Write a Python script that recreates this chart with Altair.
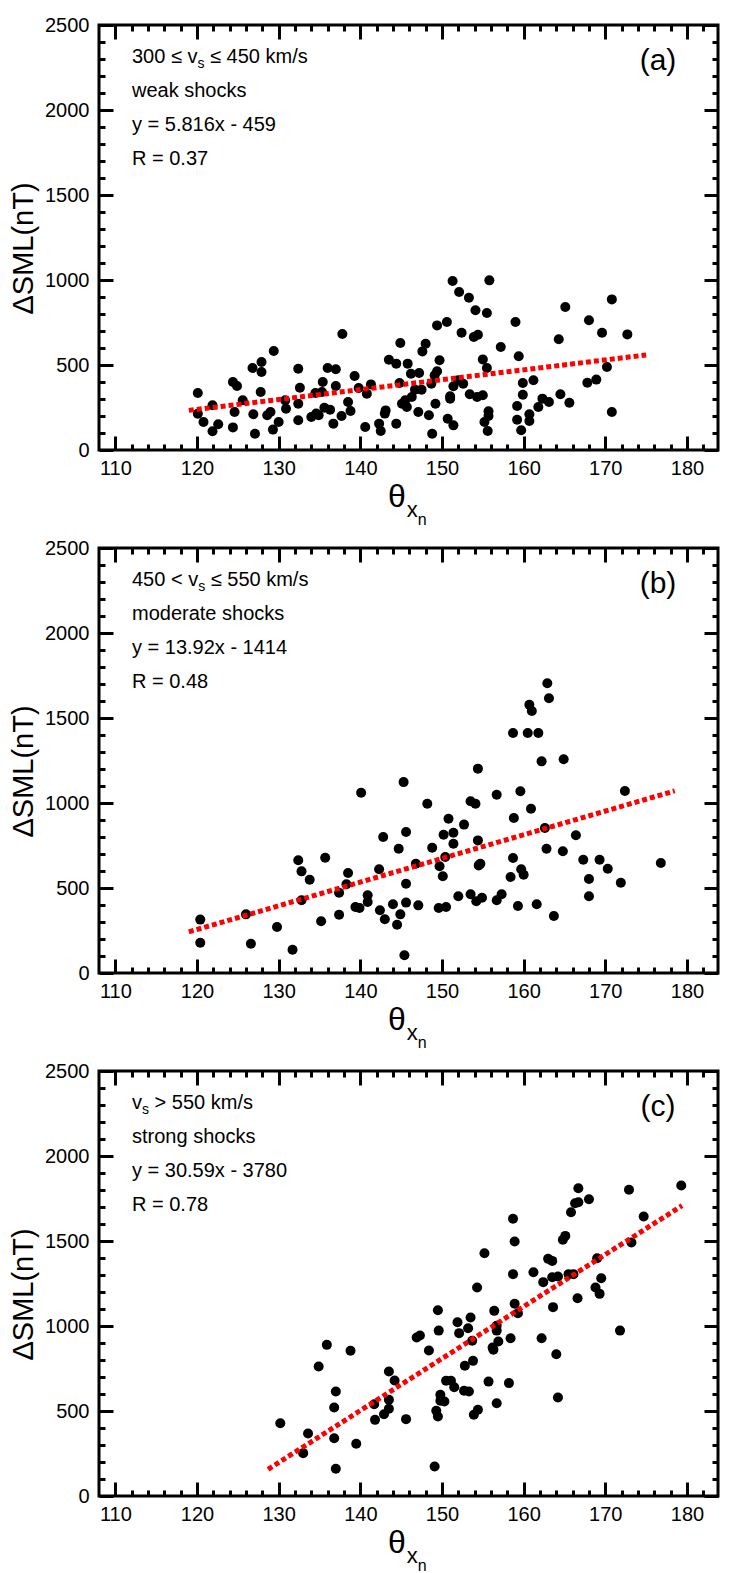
import altair as alt
import pandas as pd

# ---------------- data ----------------
a_x = [120.1,120.1,120.8,121.9,121.9,122.6,124.4,124.9,124.6,124.4,125.6,126.8,126.9,127.1,127.9,127.9,127.8,128.6,129.0,129.4,
       129.3,130.0,130.8,130.9,132.4,132.6,132.4,132.4,134.0,134.6,134.9,134.5,135.3,135.4,136.0,135.6,136.3,137.0,137.0,136.7,
       137.8,137.7,138.5,138.8,139.3,139.8,140.8,141.3,140.6,142.3,142.5,143.1,143.0,143.5,144.4,144.9,144.8,144.4,145.8,146.2,
       145.1,145.7,145.5,146.3,
       147.2,146.7,147.5,147.1,147.6,148.0,148.4,148.8,148.7,149.1,149.4,149.7,149.4,149.2,150.6,151.0,151.0,150.7,151.4,151.3,
       152.1,152.4,151.4,152.0,152.6,153.3,153.4,154.1,153.9,154.4,154.3,155.0,155.0,155.5,155.5,155.8,155.2,155.7,155.7,155.6,
       157.2,159.0,159.4,159.2,159.2,159.7,159.9,159.9,160.7,160.7,161.2,161.8,162.3,163.1,164.3,164.5,165.1,165.6,167.8,168.9,
       168.0,169.6,170.2,170.8,170.8,172.7]
a_y = [335,213,165,263,110,151,400,376,224,133,292,482,210,96,518,459,341,204,224,582,
       120,165,292,243,478,366,272,175,194,214,204,335,341,400,482,249,237,475,376,155,
       682,200,282,229,435,365,331,386,135,155,112,233,214,531,508,629,394,155,508,449,
       272,253,292,312,
       453,355,355,224,580,625,204,96,390,439,463,528,733,272,753,316,302,184,145,994,
       929,690,375,410,390,896,328,822,665,678,312,322,533,482,806,998,165,228,200,112,
       606,753,551,259,178,116,394,325,210,171,410,253,302,282,651,328,841,278,396,414,
       763,690,488,886,224,680]

b_x = [120.4,120.4,126.0,126.6,129.8,131.7,132.4,132.8,132.8,133.8,135.2,135.7,137.4,137.4,138.5,138.3,139.4,139.9,140.1,140.9,
       140.9,142.3,142.4,142.8,143.0,144.0,144.5,144.7,144.9,145.3,145.6,145.6,145.6,145.4,
       146.8,147.1,148.2,148.8,149.6,150.5,149.7,150.1,150.4,150.2,150.8,151.4,151.4,152.0,152.7,153.5,154.1,154.4,154.4,154.5,
       154.7,153.5,154.2,154.9,156.7,156.7,157.3,158.4,158.7,158.8,158.7,159.3,159.6,159.7,160.0,160.7,161.0,160.5,160.9,161.8,
       161.6,162.2,162.6,162.8,162.9,163.1,163.7,164.8,164.9,166.4,167.3,168.0,168.0,169.3,170.3,171.9,172.4,176.8]
b_y = [314,178,345,172,271,137,663,598,428,549,304,678,472,343,588,522,388,382,1060,457,
       418,610,369,800,316,404,284,731,345,1123,829,525,414,104,
       643,398,996,737,382,388,628,569,682,813,907,825,760,451,873,1010,996,1202,780,633,
       643,463,422,443,1049,428,463,565,676,912,1412,394,1069,610,578,1578,1541,1412,966,1412,
       404,1245,853,731,1704,1616,335,716,1257,810,666,553,451,666,613,531,1071,647]

c_x = [130.2,133.6,133.0,135.9,134.9,138.8,137.0,136.8,136.8,137.0,
       139.5,141.7,141.8,142.9,143.5,143.5,143.5,144.2,145.6,146.9,
       147.3,148.4,149.1,149.3,149.5,149.5,149.6,149.8,149.8,150.3,
       150.5,151.1,151.5,151.9,152.1,152.8,152.7,153.3,153.2,153.5,
       153.7,153.8,154.3,153.9,154.4,155.2,155.7,156.2,156.3,156.4,
       156.7,156.7,156.9,156.7,158.2,158.4,158.7,158.9,158.7,158.9,
       159.3,161.2,162.2,162.4,163.0,163.5,163.5,163.6,164.0,164.2,
       164.2,164.8,165.1,165.5,166.1,165.8,166.3,166.7,166.7,166.6,
       168.0,168.8,169.0,169.3,169.5,171.8,172.9,173.2,174.7,179.3]
c_y = [428,368,252,889,762,854,615,521,340,160,
       307,540,448,481,513,566,732,679,452,932,
       944,856,174,501,468,1093,973,595,560,556,
       678,678,640,1022,958,766,619,615,987,1050,
       913,795,1226,478,507,1428,673,873,860,1089,
       1001,973,909,546,664,928,1631,1497,1305,1131,
       1075,1316,928,1258,1395,1383,1287,1111,834,579,
       1291,1507,1530,1305,1305,1669,1722,1728,1810,1163,
       1746,1226,1399,1189,1281,973,1801,1491,1644,1826]

# fitted lines (end points as drawn)
fit_a_x = [119.0, 175.0]; fit_a_y = [233, 559]
fit_b_x = [119.0, 178.5]; fit_b_y = [242, 1071]
fit_c_x = [128.7, 179.4]; fit_c_y = [157, 1708]

# texts (main, subscript, rest)
a_lines = [("300 ≤ v", "s", "≤ 450 km/s"), "weak shocks", "y = 5.816x - 459", "R = 0.37"]
b_lines = [("450 < v", "s", "≤ 550 km/s"), "moderate shocks", "y = 13.92x - 1414", "R = 0.48"]
c_lines = [("v", "s", "> 550 km/s"), "strong shocks", "y = 30.59x - 3780", "R = 0.78"]
panel_tags = ["(a)", "(b)", "(c)"]

x_domain = [108, 183.8]
y_domain = [0, 2500]
x_major = [110, 120, 130, 140, 150, 160, 170, 180]
x_minor = [v for v in range(110, 184, 2) if v % 10 != 0]
y_major = [0, 500, 1000, 1500, 2000, 2500]
y_minor = [v for v in range(100, 2500, 100) if v % 500 != 0]

# ---------------- styling ----------------
W, H = 619, 425
FONT = "Liberation Sans"
MAJ, MIN = 14, 6
LABEL_SIZE = 20

ARIAL = {" ": 278, "≤": 549, "<": 584, ">": 584, "v": 500, "s": 500, "k": 500,
         "m": 833, "/": 278, ".": 278, "θ": 556, "x": 500, "n": 556}


def tw(s, size):
    return sum(ARIAL.get(ch, 556) for ch in s) * size / 1000.0


def axis(orient, values, size, labels):
    return alt.Axis(orient=orient, values=values, tickSize=size, offset=-size,
                    labels=labels, domain=False, grid=False, title=None, format="d",
                    tickWidth=3, tickColor="black", labelFont=FONT,
                    labelFontSize=LABEL_SIZE, labelColor="black",
                    labelPadding=8 if orient in ("bottom", "top") else 10,
                    labelFlush=False, labelOverlap=False)


def txt(t, x, y, size, align="left", angle=None):
    kw = dict(text=t, font=FONT, fontSize=size, align=align,
              baseline="alphabetic", color="black")
    if angle is not None:
        kw["angle"] = angle
    return alt.Chart(pd.DataFrame({"d": [0]})).mark_text(**kw).encode(
        x=alt.value(x), y=alt.value(y))


xs = alt.Scale(domain=x_domain, nice=False, zero=False)
ys = alt.Scale(domain=y_domain, nice=False, zero=False)


def panel(px, py, fx, fy, lines, tag):
    df = pd.DataFrame({"x": px, "y": py})
    fdf = pd.DataFrame({"x": fx, "y": fy})
    pts = alt.Chart(df).mark_circle(size=100, color="black", opacity=1).encode(
        x=alt.X("x:Q", scale=xs, axis=axis("bottom", x_major, MAJ, True)),
        y=alt.Y("y:Q", scale=ys, axis=axis("left", y_major, MAJ, True)))
    fit = alt.Chart(fdf).mark_line(color="#ff0000", strokeWidth=5,
                                   strokeDash=[5, 3]).encode(
        x=alt.X("x:Q", scale=xs, axis=axis("bottom", x_minor, MIN, False)),
        y=alt.Y("y:Q", scale=ys, axis=axis("left", y_minor, MIN, False)))
    g1 = alt.Chart(fdf).mark_point(opacity=0).encode(
        x=alt.X("x:Q", scale=xs, axis=axis("top", x_major, MAJ, False)),
        y=alt.Y("y:Q", scale=ys, axis=axis("right", y_major, MAJ, False)))
    g2 = alt.Chart(fdf).mark_point(opacity=0).encode(
        x=alt.X("x:Q", scale=xs, axis=axis("top", x_minor, MIN, False)),
        y=alt.Y("y:Q", scale=ys, axis=axis("right", y_minor, MIN, False)))

    layers = [pts, fit, g1, g2]
    # annotation block
    x0 = 33
    base = [38, 72, 106, 140]
    pre, sub, post = lines[0]
    layers.append(txt(pre, x0, base[0], 20))
    layers.append(txt(sub, x0 + tw(pre, 20), base[0] + 5, 14))
    layers.append(txt(post, x0 + tw(pre, 20) + tw(sub, 14) + tw(" ", 20), base[0], 20))
    for i in range(1, 4):
        layers.append(txt(lines[i], x0, base[i], 20))
    # panel tag
    layers.append(txt(tag, 559, 45, 30, align="center"))
    # axis titles
    layers.append(txt("ΔSML(nT)", -66, H / 2 + 11, 29, align="center", angle=270))
    tx = 289
    layers.append(txt("θ", tx, H + 57, 32))
    sx = tx + tw("θ", 32) + 1
    layers.append(txt("x", sx, H + 67, 22))
    layers.append(txt("n", sx + tw("x", 22), H + 75, 16))

    return alt.layer(*layers).resolve_axis(x="independent", y="independent").properties(
        width=W, height=H)


pa = panel(a_x, a_y, fit_a_x, fit_a_y, a_lines, panel_tags[0])
pb = panel(b_x, b_y, fit_b_x, fit_b_y, b_lines, panel_tags[1])
pc = panel(c_x, c_y, fit_c_x, fit_c_y, c_lines, panel_tags[2])

chart = alt.vconcat(pa, pb, pc, spacing=98, bounds="flush").configure_view(
    stroke="black", strokeWidth=3).properties(
    padding={"left": 0, "top": 5, "right": 5, "bottom": 5},
    background="white")

chart.save("out.html", embed_options={"renderer": "svg", "actions": False})
